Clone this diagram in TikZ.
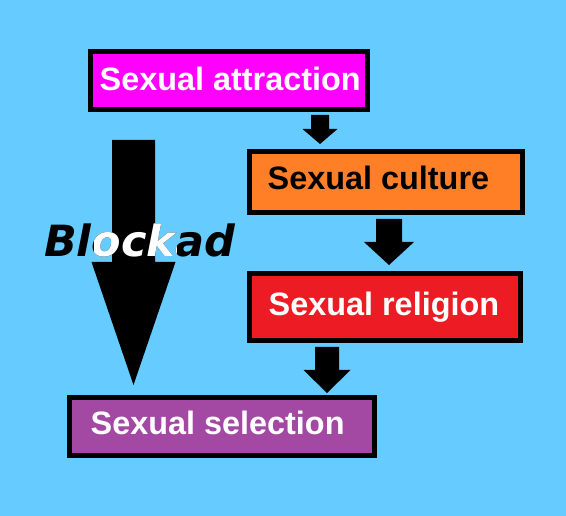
\documentclass[tikz,border=0pt]{standalone}
\usepackage{fontspec}
\setmainfont{Liberation Sans}
\newfontfamily\blkfont{DejaVu Sans}
\definecolor{bgblue}{HTML}{66CCFF}
\definecolor{cmag}{HTML}{FF00FF}
\definecolor{corange}{HTML}{FF7F27}
\definecolor{cred}{HTML}{ED1C24}
\definecolor{cpurple}{HTML}{A349A4}
\newcommand\blockarrow[6]{%
  \fill[black] (#1-#5,#2) -- (#1+#5,#2) -- (#1+#5,#3) -- (#1+#6,#3) -- (#1,#4) -- (#1-#6,#3) -- (#1-#5,#3) -- cycle;}
\begin{document}
\begin{tikzpicture}[x=1pt,y=-1pt,
  box/.style={draw=black,line width=5pt,outer sep=0pt,inner sep=0pt},
  lbl/.style={anchor=base west,inner sep=0pt,font=\bfseries\fontsize{32.4}{38}\selectfont},
  blk/.style={anchor=base west,inner sep=0pt,font=\blkfont\bfseries\itshape\fontsize{43}{50}\selectfont}]
\fill[bgblue] (0,0) rectangle (566,516);
\useasboundingbox (0,0) rectangle (566,516);
% boxes
\node[box,fill=cmag,minimum width=277pt,minimum height=58pt] (attr) at (229,80.5) {};
\node[box,fill=corange,minimum width=273pt,minimum height=61pt] (cult) at (386,182) {};
\node[box,fill=cred,minimum width=271pt,minimum height=67pt] (relig) at (385,307) {};
\node[box,fill=cpurple,minimum width=305pt,minimum height=58pt] (sel) at (222,426.5) {};
% labels
\node[lbl,text=white] (attrt) at (99.5,90.5) {Sexual attraction};
\node[lbl,text=black] (cultt) at (267.5,190) {Sexual culture};
\node[lbl,text=white] (religt) at (268.5,316) {Sexual religion};
\node[lbl,text=white] (selt) at (90.5,434.5) {Sexual selection};
% arrows
\blockarrow{320}{115}{129}{144}{9}{17.5}
\blockarrow{389}{219}{242}{265}{13}{25}
\blockarrow{327}{347}{370}{393}{12}{23.5}
\blockarrow{133.5}{140}{262}{385}{21.5}{42}
% Blockad
\node[blk,text=black] (blocked) at (44,257) {Blockad};
\begin{scope}
  \clip (94,200) rectangle (176,270);
  \node[blk,text=white] (blockedw) at (44,257) {Blockad};
\end{scope}
\end{tikzpicture}
\end{document}
